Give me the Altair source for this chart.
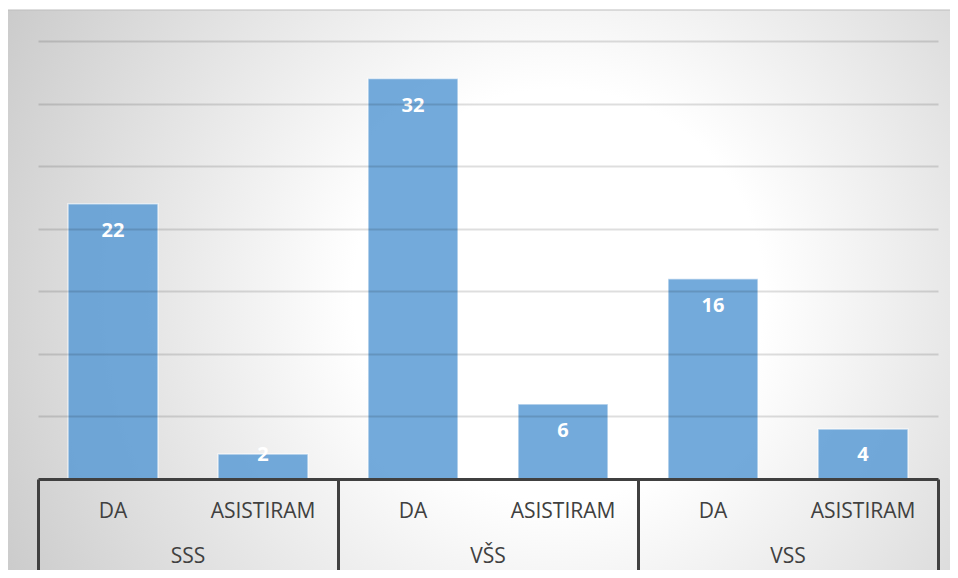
import altair as alt
import pandas as pd

groups = ["SSS", "VŠS", "VSS"]
subs = ["DA", "ASISTIRAM"]
group_col = ["SSS", "SSS", "VŠS", "VŠS", "VSS", "VSS"]
sub_col = ["DA", "ASISTIRAM", "DA", "ASISTIRAM", "DA", "ASISTIRAM"]
values = [22, 2, 32, 6, 16, 4]
grid_values = [0, 5, 10, 15, 20, 25, 30, 35]

df = pd.DataFrame({"group": group_col, "sub": sub_col, "value": values})
gdf = pd.DataFrame({"group": groups})

W, H = 900, 438
FONT = "Open Sans"
TXT = "#404040"

xenc = alt.X("group:N", sort=groups,
             scale=alt.Scale(paddingInner=0, paddingOuter=0),
             axis=alt.Axis(title=None, labels=False, domain=True, domainColor=TXT,
                           domainWidth=3, ticks=True, tickBand="extent", tickSize=92,
                           tickWidth=3, tickColor=TXT, grid=False, zindex=2))
xoff = alt.XOffset("sub:N", sort=subs,
                   scale=alt.Scale(paddingInner=0.4, paddingOuter=0.2))
yscale = alt.Scale(domain=[0, 35], nice=False, zero=True)

bg = alt.Chart(pd.DataFrame({"a": [0]})).mark_rect(
    color=alt.Gradient(
        gradient="radial",
        stops=[alt.GradientStop(color="#ffffff", offset=0),
               alt.GradientStop(color="#ffffff", offset=0.3),
               alt.GradientStop(color="#c3c3c3", offset=1)],
        x1=0.58, y1=0.5, r1=0, x2=0.58, y2=0.5, r2=0.72),
    stroke="#bdbdbd", strokeWidth=1,
).encode(x=alt.value(-31), x2=alt.value(W + 20), y=alt.value(-31), y2=alt.value(H + 100))

bars = alt.Chart(df).mark_bar(
    color="#5b9bd5", fillOpacity=0.85, stroke="#ffffff", strokeOpacity=0.6, strokeWidth=1.5
).encode(
    x=xenc,
    xOffset=xoff,
    y=alt.Y("value:Q", scale=yscale,
            axis=alt.Axis(title=None, labels=False, ticks=False, domain=False, grid=True,
                          values=grid_values, gridColor="#000000", gridOpacity=0.13,
                          gridWidth=2, zindex=1)),
)

vlabels = alt.Chart(df).transform_calculate(
    lab="max(datum.value - 2.2, 1.92)"
).mark_text(
    font=FONT, fontSize=20, fontWeight="bold", color="white", baseline="middle"
).encode(
    x=alt.X("group:N", sort=groups),
    xOffset=alt.XOffset("sub:N", sort=subs),
    y=alt.Y("lab:Q", scale=yscale),
    text="value:Q",
)

sublabels = alt.Chart(df).mark_text(
    font=FONT, fontSize=21, color=TXT, baseline="middle"
).encode(
    x=alt.X("group:N", sort=groups),
    xOffset=alt.XOffset("sub:N", sort=subs),
    y=alt.value(H + 33),
    text="sub:N",
)

grouplabels = alt.Chart(gdf).mark_text(
    font=FONT, fontSize=21, color=TXT, baseline="middle"
).encode(
    x=alt.X("group:N", sort=groups),
    y=alt.value(H + 78),
    text="group:N",
)

chart = alt.layer(bg, bars, vlabels, sublabels, grouplabels).properties(
    width=W, height=H,
    autosize=alt.AutoSizeParams(type="none"),
    padding={"left": 30, "top": 33, "right": 12, "bottom": 91},
    background="white",
).configure_view(stroke=None)

chart.save("out.html", embed_options={"renderer": "svg", "actions": False})
